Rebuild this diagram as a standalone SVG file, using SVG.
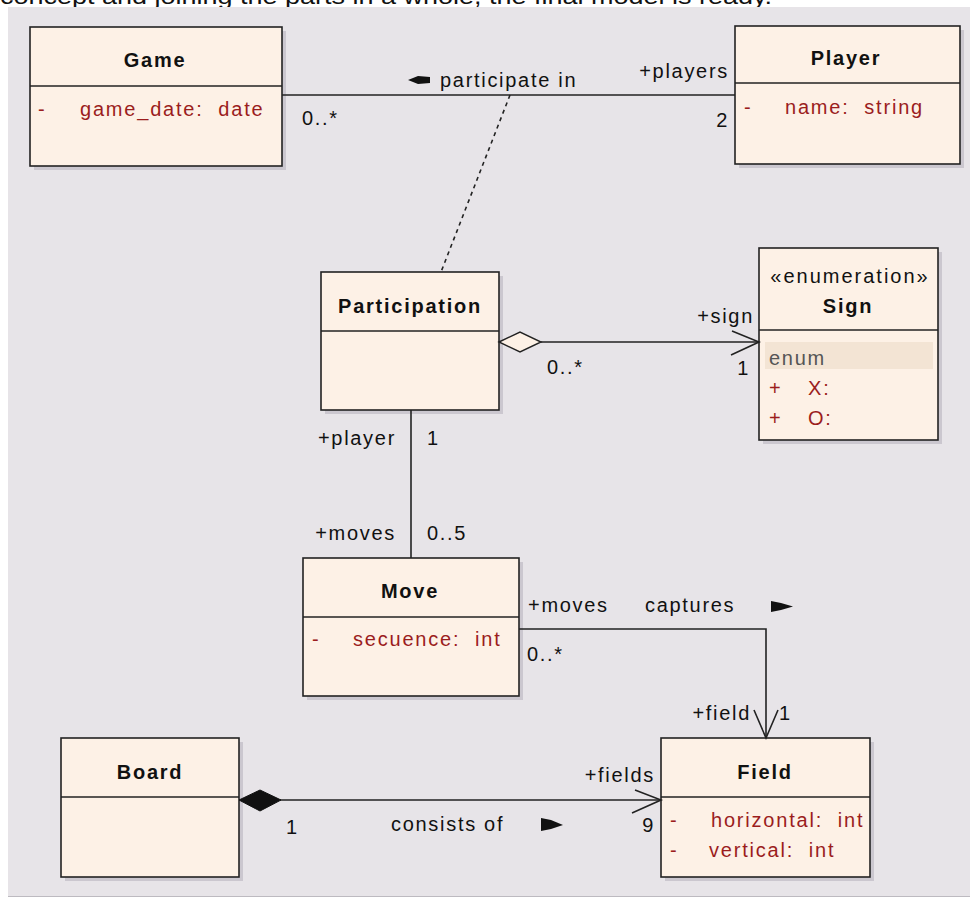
<svg xmlns="http://www.w3.org/2000/svg" width="973" height="900" viewBox="0 0 973 900">
<style>
.box{fill:#FDF1E6;stroke:#222;stroke-width:1.6}
.sh{fill:#CBC7CF}
.div{stroke:#222;stroke-width:1.6}
.t{font-family:"Liberation Sans",Arial,sans-serif;font-size:20px;font-weight:bold;fill:#111;text-anchor:middle;letter-spacing:1.75px}
.a{font-family:"Liberation Sans",Arial,sans-serif;font-size:20px;fill:#9B1D1D;letter-spacing:1.8px}
.l{font-family:"Liberation Sans",Arial,sans-serif;font-size:20px;fill:#111;letter-spacing:1.7px}
.e{text-anchor:end}
.ln{fill:none;stroke:#222;stroke-width:1.6}
</style>
<rect x="0" y="0" width="973" height="900" fill="#FFFFFF"/>
<text x="0" y="4" font-family="Liberation Sans,Arial,sans-serif" font-size="22" fill="#111" textLength="772" lengthAdjust="spacingAndGlyphs">concept and joining the parts in a whole, the final model is ready.</text>
<rect x="8" y="7" width="962" height="889" fill="#E7E4E8"/>
<line x1="8" y1="896.5" x2="970" y2="896.5" stroke="#BDBAC0" stroke-width="1"/>

<g id="game">
  <rect class="sh" x="34" y="31" width="252" height="139"/>
  <rect class="box" x="30" y="27" width="252" height="139"/>
  <line class="div" x1="30" y1="86" x2="282" y2="86"/>
  <text class="t" x="155" y="67">Game</text>
  <text class="a" x="38" y="116">-</text>
  <text class="a" x="80" y="116" xml:space="preserve">game_date:  date</text>
</g>

<g id="player">
  <rect class="sh" x="739" y="30" width="225" height="138"/>
  <rect class="box" x="735" y="26" width="225" height="138"/>
  <line class="div" x1="735" y1="83" x2="960" y2="83"/>
  <text class="t" x="846" y="65">Player</text>
  <text class="a" x="744" y="114">-</text>
  <text class="a" x="785" y="114" xml:space="preserve">name:  string</text>
</g>

<g id="participation">
  <rect class="sh" x="325" y="276" width="178" height="138"/>
  <rect class="box" x="321" y="272" width="178" height="138"/>
  <line class="div" x1="321" y1="331" x2="499" y2="331"/>
  <text class="t" x="410" y="313">Participation</text>
</g>

<g id="sign">
  <rect class="sh" x="763" y="252" width="179" height="192"/>
  <rect class="box" x="759" y="248" width="179" height="192"/>
  <line class="div" x1="759" y1="330" x2="938" y2="330"/>
  <text class="l" x="850" y="283" text-anchor="middle" style="letter-spacing:2px">«enumeration»</text>
  <text class="t" x="848" y="313">Sign</text>
  <rect x="765" y="342" width="168" height="27" fill="#F3E4D4"/>
  <text class="l" x="769" y="365" style="fill:#555">enum</text>
  <text class="a" x="769" y="395">+</text>
  <text class="a" x="808" y="395">X:</text>
  <text class="a" x="769" y="425">+</text>
  <text class="a" x="808" y="425">O:</text>
</g>

<g id="move">
  <rect class="sh" x="307" y="562" width="216" height="138"/>
  <rect class="box" x="303" y="558" width="216" height="138"/>
  <line class="div" x1="303" y1="617" x2="519" y2="617"/>
  <text class="t" x="410" y="598">Move</text>
  <text class="a" x="312" y="646">-</text>
  <text class="a" x="353" y="646" xml:space="preserve">secuence:  int</text>
</g>

<g id="board">
  <rect class="sh" x="65" y="742" width="178" height="139"/>
  <rect class="box" x="61" y="738" width="178" height="139"/>
  <line class="div" x1="61" y1="797" x2="239" y2="797"/>
  <text class="t" x="150" y="779">Board</text>
</g>

<g id="field">
  <rect class="sh" x="665" y="742" width="209" height="139"/>
  <rect class="box" x="661" y="738" width="209" height="139"/>
  <line class="div" x1="661" y1="797" x2="870" y2="797"/>
  <text class="t" x="765" y="779">Field</text>
  <text class="a" x="670" y="827">-</text>
  <text class="a" x="711" y="827" xml:space="preserve">horizontal:  int</text>
  <text class="a" x="670" y="857">-</text>
  <text class="a" x="709" y="857" xml:space="preserve">vertical:  int</text>
</g>

<g id="connectors">
  <line class="ln" x1="282" y1="95" x2="735" y2="95"/>
  <line class="ln" x1="510" y1="95" x2="441" y2="272" stroke-dasharray="4,4"/>
  <polygon points="408,80 418,76 430,77 430,83 418,84" fill="#111"/>
  <text class="l" x="440" y="87">participate in</text>
  <text class="l e" x="729" y="78">+players</text>
  <text class="l" x="302" y="125">0..*</text>
  <text class="l e" x="729" y="127">2</text>

  <line class="ln" x1="541" y1="342" x2="759" y2="342"/>
  <polygon points="499,342 520,332 541,342 520,352" fill="#FDF1E6" stroke="#222" stroke-width="1.4"/>
  <polyline class="ln" points="732,331 759,342 731,355"/>
  <text class="l e" x="754" y="323">+sign</text>
  <text class="l" x="547" y="374">0..*</text>
  <text class="l e" x="750" y="375">1</text>

  <line class="ln" x1="411" y1="410" x2="411" y2="558"/>
  <text class="l e" x="396" y="445">+player</text>
  <text class="l" x="427" y="445">1</text>
  <text class="l e" x="396" y="540">+moves</text>
  <text class="l" x="427" y="540">0..5</text>

  <polyline class="ln" points="519,629 766,629 766,738"/>
  <polyline class="ln" points="754,710 766,738 778,710"/>
  <text class="l" x="528" y="612">+moves</text>
  <text class="l" x="645" y="612">captures</text>
  <polygon points="771,601 781,603 793,606.5 781,610 771,612" fill="#111"/>
  <text class="l" x="527" y="661">0..*</text>
  <text class="l e" x="751" y="720">+field</text>
  <text class="l" x="779" y="720">1</text>

  <line class="ln" x1="280" y1="800" x2="661" y2="800"/>
  <polygon points="239,800 260,790 281,800 260,811" fill="#111" stroke="#111" stroke-width="1"/>
  <polyline class="ln" points="635,790 661,800 632,813"/>
  <text class="l" x="286" y="834">1</text>
  <text class="l" x="391" y="831">consists of</text>
  <polygon points="541,818 551,820 563,825 551,829 541,831" fill="#111"/>
  <text class="l e" x="655" y="782">+fields</text>
  <text class="l e" x="655" y="832">9</text>
</g>
</svg>
